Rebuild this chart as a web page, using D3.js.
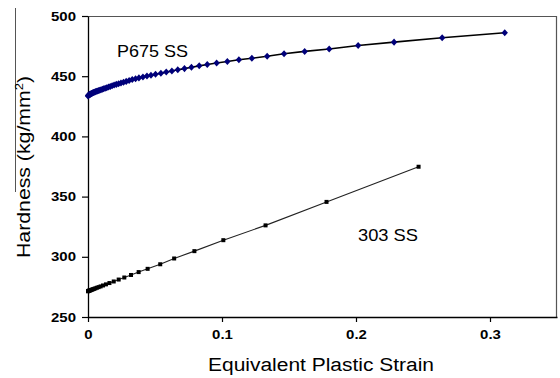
<!DOCTYPE html>
<html>
<head>
<meta charset="utf-8">
<script src="https://cdn.jsdelivr.net/npm/d3@7"></script>
<style>
  body { margin: 0; background: #fff; }
  text { font-family: "Liberation Sans", Arial, sans-serif; fill: #000; }
  .tick text { font-weight: bold; font-size: 13px; }
</style>
</head>
<body>
<div id="chart"></div>
<script>
var svgWidth = 560;
var svgHeight = 378;

// plot frame (pixels)
var margin = { top: 16, right: 3, bottom: 61, left: 88 };
var width = svgWidth - margin.left - margin.right;
var height = svgHeight - margin.top - margin.bottom;

// axis ticks
var xTicks = [0, 0.1, 0.2, 0.3];
var yTicks = [250, 300, 350, 400, 450, 500];

// P675 SS: equivalent plastic strain / hardness (kg/mm2)
var p675Strain = [0, 0.0002, 0.0005, 0.0008, 0.0011, 0.0014, 0.0017, 0.002, 0.0023, 0.0027,
  0.0031, 0.0036, 0.0041, 0.0046, 0.0052, 0.0058, 0.0065, 0.0072, 0.008, 0.0088,
  0.0097, 0.0107, 0.0117, 0.0128, 0.014, 0.0153, 0.0166, 0.018, 0.0195, 0.0211,
  0.0228, 0.0246, 0.0265, 0.0285, 0.0307, 0.033, 0.0355, 0.038, 0.041, 0.044,
  0.047, 0.0504, 0.0544, 0.0584, 0.0626, 0.067, 0.072, 0.0772, 0.083, 0.089,
  0.096, 0.104, 0.1126, 0.1223, 0.1337, 0.1463, 0.1617, 0.180, 0.2016, 0.2284,
  0.2643, 0.311];
var p675Hardness = [433.6, 433.9, 434.3, 434.5, 434.7, 434.9, 435.1, 435.3, 435.5, 435.7,
  435.9, 436.2, 436.4, 436.7, 436.9, 437.2, 437.5, 437.8, 438.1, 438.4,
  438.8, 439.2, 439.6, 440.0, 440.5, 441.0, 441.5, 442.0, 442.6, 443.2,
  443.8, 444.4, 445.0, 445.7, 446.4, 447.2, 447.9, 448.6, 449.3, 450.1,
  450.8, 451.6, 452.5, 453.4, 454.3, 455.3, 456.3, 457.4, 458.6, 459.7,
  460.9, 462.2, 463.6, 464.9, 466.6, 468.6, 470.6, 472.6, 475.5, 478.3,
  482.0, 486.1];

// 303 SS
var ss303Strain = [0, 0.0001, 0.0004, 0.0007, 0.0011, 0.0015, 0.002, 0.0025, 0.0031, 0.0038,
  0.0046, 0.0055, 0.0066, 0.0079, 0.0094, 0.0112, 0.0134, 0.016, 0.0192, 0.0229,
  0.0271, 0.0321, 0.0378, 0.0445, 0.0539, 0.0643, 0.0794, 0.101, 0.1325, 0.178,
  0.2467];
var ss303Hardness = [271.4, 271.5, 271.7, 271.8, 272.0, 272.1, 272.3, 272.5, 272.8, 273.1,
  273.4, 273.8, 274.3, 274.8, 275.4, 276.2, 277.1, 278.2, 279.5, 281.1,
  282.8, 284.9, 287.3, 290.0, 293.8, 298.6, 304.7, 313.8, 326.1, 345.6,
  374.8];

var svg = d3.select("#chart")
  .append("svg")
  .attr("width", svgWidth)
  .attr("height", svgHeight);

var chartGroup = svg.append("g")
  .attr("transform", `translate(${margin.left}, ${margin.top})`);

var xLinearScale = d3.scaleLinear().domain([0, 0.35]).range([0, width]);
var yLinearScale = d3.scaleLinear().domain([250, 500]).range([height, 0]);

// stray vertical rule at the left edge of the scan
svg.append("line")
  .attr("x1", 15.5).attr("x2", 15.5).attr("y1", 8).attr("y2", 192)
  .attr("stroke", "#555").attr("stroke-width", 1);

// frame top and right
chartGroup.append("path")
  .attr("d", `M0,0.5H${width - 0.5}V${height}`)
  .attr("fill", "none")
  .attr("stroke", "#555")
  .attr("stroke-width", 1.2);

var bottomAxis = d3.axisBottom(xLinearScale)
  .tickValues(xTicks).tickSize(5).tickSizeOuter(0).tickPadding(6)
  .tickFormat(d3.format(""));
var leftAxis = d3.axisLeft(yLinearScale)
  .tickValues(yTicks).tickSize(6).tickSizeOuter(0).tickPadding(6);

var xAxis = chartGroup.append("g")
  .attr("transform", `translate(0, ${height})`)
  .call(bottomAxis);
var yAxis = chartGroup.append("g")
  .call(leftAxis);

[xAxis, yAxis].forEach(function(ax) {
  ax.select(".domain").attr("stroke", "#000").attr("stroke-width", 1.3);
  ax.selectAll(".tick line").attr("stroke", "#000").attr("stroke-width", 1.2);
  ax.selectAll("text").attr("font-family", null).attr("font-size", null);
});
xAxis.selectAll("text").attr("dy", "0.85em");

// line generator
var line = d3.line()
  .x(d => xLinearScale(d[0]))
  .y(d => yLinearScale(d[1]));

var p675 = d3.zip(p675Strain, p675Hardness);
var ss303 = d3.zip(ss303Strain, ss303Hardness);

chartGroup.append("path")
  .datum(ss303)
  .attr("d", line)
  .attr("fill", "none")
  .attr("stroke", "#222")
  .attr("stroke-width", 1.1);

chartGroup.selectAll(".sq")
  .data(ss303)
  .enter()
  .append("rect")
  .attr("class", "sq")
  .attr("x", d => xLinearScale(d[0]) - 2)
  .attr("y", d => yLinearScale(d[1]) - 2)
  .attr("width", 4)
  .attr("height", 4)
  .attr("fill", "#000");

chartGroup.append("path")
  .datum(p675)
  .attr("d", line)
  .attr("fill", "none")
  .attr("stroke", "#000")
  .attr("stroke-width", 1.6);

var diamond = d3.symbol().type(d3.symbolDiamond2).size(26);
chartGroup.selectAll(".dm")
  .data(p675)
  .enter()
  .append("path")
  .attr("class", "dm")
  .attr("d", diamond)
  .attr("transform", d => `translate(${xLinearScale(d[0])}, ${yLinearScale(d[1])}) scale(1, 1.1)`)
  .attr("fill", "#00007a");

// series labels
svg.append("text")
  .attr("x", 117).attr("y", 57)
  .attr("font-size", 17)
  .attr("textLength", 71).attr("lengthAdjust", "spacingAndGlyphs")
  .text("P675 SS");

svg.append("text")
  .attr("x", 358).attr("y", 241)
  .attr("font-size", 17)
  .attr("textLength", 60).attr("lengthAdjust", "spacingAndGlyphs")
  .text("303 SS");

// axis titles
svg.append("text")
  .attr("x", 208).attr("y", 371)
  .attr("font-size", 18)
  .attr("textLength", 226).attr("lengthAdjust", "spacingAndGlyphs")
  .text("Equivalent Plastic Strain");

var yTitle = svg.append("text")
  .attr("transform", "translate(29.5, 258) rotate(-90)")
  .attr("font-size", 18)
  .attr("textLength", 182).attr("lengthAdjust", "spacingAndGlyphs");
yTitle.append("tspan").text("Hardness (kg/mm");
yTitle.append("tspan").attr("font-size", 11).attr("dy", -7).text("2");
yTitle.append("tspan").attr("dy", 7).text(")");

// widen the tick labels a little, like the scan
svg.selectAll(".tick text").each(function() {
  var w = this.getComputedTextLength();
  d3.select(this).attr("textLength", w * 1.15).attr("lengthAdjust", "spacingAndGlyphs");
});
</script>
</body>
</html>
